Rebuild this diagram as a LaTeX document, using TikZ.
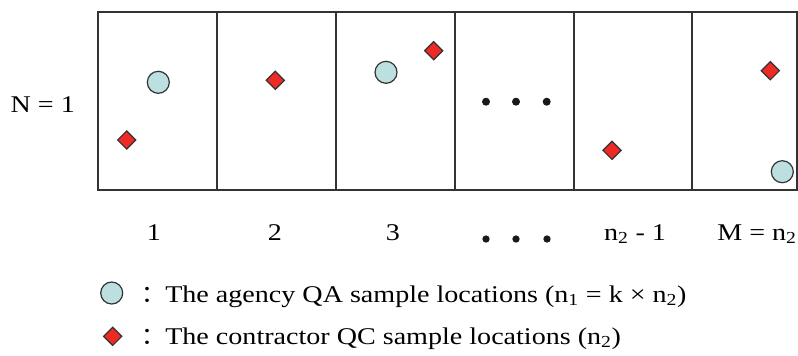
\documentclass[tikz,border=0pt]{standalone}
\usepackage{fontspec}
\setmainfont{Liberation Serif}[FakeStretch=1.17]
\newfontfamily\cjkfont{Noto Sans CJK SC}
\usetikzlibrary{shapes.geometric}
\definecolor{qablue}{HTML}{BCDFE0}
\definecolor{qcred}{HTML}{EE2A24}
\definecolor{edge}{HTML}{333333}
\tikzset{
  qa/.style={circle,draw=edge,fill=qablue,line width=0.9pt,minimum size=16.5pt,inner sep=0pt},
  qc/.style={diamond,draw=edge,fill=qcred,line width=0.9pt,minimum size=14pt,inner sep=0pt},
  dotmark/.style={circle,fill=black!90,minimum size=6pt,inner sep=0pt},
  lab/.style={font=\fontsize{18}{20}\selectfont,inner sep=0pt},
  cellline/.style={draw=edge,line width=1.4pt}
}
\begin{document}
\begin{tikzpicture}[x=0.75pt,y=-0.75pt]
\useasboundingbox (0,0) rectangle (798,355);
% grid
\draw[cellline] (98,12) rectangle (797,190);
\foreach \xx in {217,336,455,574,692}{
  \draw[cellline] (\xx,12) -- (\xx,190);
}
% markers
\node[qa] (a1) at (158.3,82.3) {};
\node[qc] (c1) at (126.7,140) {};
\node[qc] (c2) at (275.3,80.3) {};
\node[qa] (a3) at (386,72.3) {};
\node[qc] (c3) at (433.7,50.7) {};
\node[dotmark] (d1) at (486,101.7) {};
\node[dotmark] (d2) at (516,101.7) {};
\node[dotmark] (d3) at (546.7,101.7) {};
\node[qc] (c4) at (612,150.3) {};
\node[qc] (c5) at (770.3,70.7) {};
\node[qa] (a5) at (782.3,171.7) {};
% labels
\node[lab,anchor=base] (N) at (42.7,112) {N = 1};
\node[lab,anchor=base] (l1) at (154,240) {1};
\node[lab,anchor=base] (l2) at (275,240) {2};
\node[lab,anchor=base] (l3) at (393,240) {3};
\node[dotmark,minimum size=5.5pt] (b1) at (486,239) {};
\node[dotmark,minimum size=5.5pt] (b2) at (516,239) {};
\node[dotmark,minimum size=5.5pt] (b3) at (547,239) {};
\node[lab,anchor=base] (l5) at (635,240) {n\textsubscript{2} - 1};
\node[lab,anchor=base] (l6) at (757,240) {M = n\textsubscript{2}};
% legend
\node[qa] (ka) at (111.7,293) {};
\node[qc] (kc) at (112.7,336.3) {};
\node[lab,anchor=base west] (ta) at (141,302) {{\cjkfont ：}The agency QA sample locations (n\textsubscript{1} = k × n\textsubscript{2})};
\node[lab,anchor=base west] (tc) at (141,344) {{\cjkfont ：}The contractor QC sample locations (n\textsubscript{2})};
\end{tikzpicture}
\end{document}
